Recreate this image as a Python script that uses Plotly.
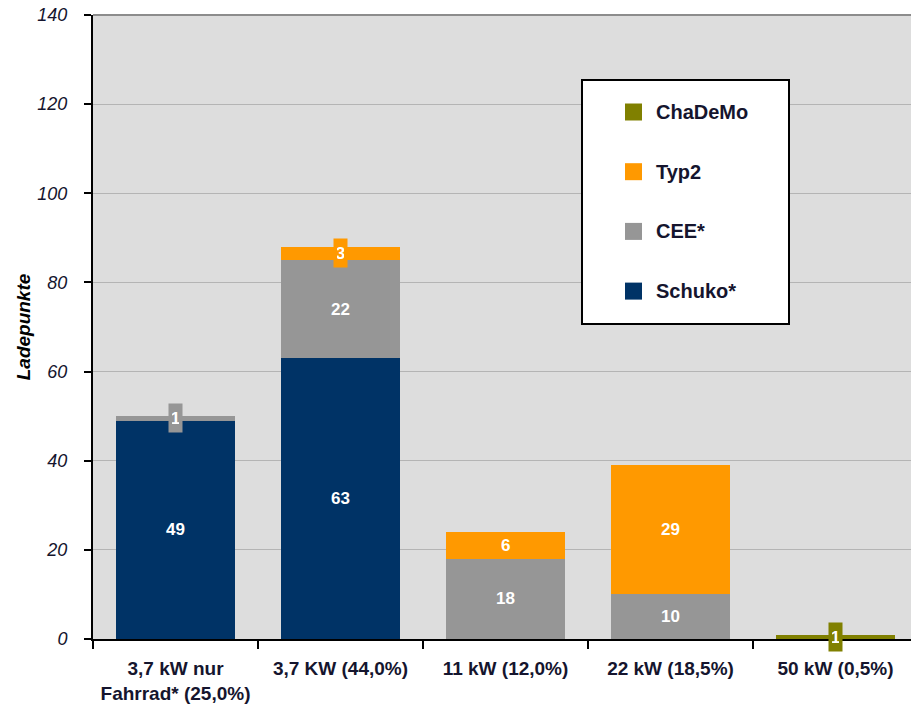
import plotly.graph_objects as go

# Ladepunkte nach Leistungsklasse und Steckertyp
categories = [
    "3,7 kW nur<br>Fahrrad* (25,0%)",
    "3,7 KW (44,0%)",
    "11 kW (12,0%)",
    "22 kW (18,5%)",
    "50 kW (0,5%)",
]
schuko = [49, 63, 0, 0, 0]
cee = [1, 22, 18, 10, 0]
typ2 = [0, 3, 6, 29, 0]
chademo = [0, 0, 0, 0, 1]

series_names = ["Schuko*", "CEE*", "Typ2", "ChaDeMo"]
series_values = [schuko, cee, typ2, chademo]
series_colors = ["#003366", "#969696", "#FF9900", "#808000"]

y_ticks = [0, 20, 40, 60, 80, 100, 120, 140]

W, H = 911, 719
L, R, T, B = 93, 0, 15, 80
PW, PH = W - L - R, H - T - B

FONT = "Liberation Sans, Arial, sans-serif"
TEXT_DARK = "#15152e"


def px_x(px):
    return (px - L) / PW


def px_y(py):
    return (H - B - py) / PH


fig = go.Figure()
for name, vals, col in zip(series_names, series_values, series_colors):
    fig.add_trace(go.Bar(
        x=categories, y=vals, name=name,
        marker=dict(color=col, line=dict(width=0)),
        width=0.72, showlegend=False, hoverinfo="skip",
    ))

# value labels centred in each segment; thin segments get a boxed label
annotations = []
base = [0] * len(categories)
for vals, col in zip(series_values, series_colors):
    for i, v in enumerate(vals):
        if v > 0:
            small = v < 5
            annotations.append(dict(
                x=categories[i], y=base[i] + v / 2, xref="x", yref="y",
                text=str(v), showarrow=False,
                font=dict(family=FONT, size=17, color="white", weight="bold"),
                bgcolor=col if small else None,
                borderpad=3 if small else 0,
                width=(7 if v < 10 else 16) if small else None,
                height=22 if small else None,
            ))
        base[i] += v

# legend box (top entry = last series)
shapes = [dict(
    type="rect", xref="paper", yref="paper",
    x0=px_x(582), x1=px_x(789), y0=px_y(324), y1=px_y(80),
    fillcolor="white", line=dict(color="black", width=2), layer="above",
)]
for k, (name, col) in enumerate(zip(series_names[::-1], series_colors[::-1])):
    cy = 112 + 59.7 * k
    shapes.append(dict(
        type="rect", xref="paper", yref="paper",
        x0=px_x(625), x1=px_x(642), y0=px_y(cy + 8.5), y1=px_y(cy - 8.5),
        fillcolor=col, line=dict(width=0), layer="above",
    ))
    annotations.append(dict(
        x=px_x(654), y=px_y(cy), xref="paper", yref="paper",
        xanchor="left", yanchor="middle", text=name, showarrow=False,
        font=dict(family=FONT, size=20, color=TEXT_DARK, weight="bold"),
    ))

# darker top border of the plot area
shapes.append(dict(
    type="line", xref="paper", yref="paper", x0=0, x1=1, y0=1, y1=1,
    line=dict(color="#8c8c8c", width=2), layer="below",
))

fig.update_layout(
    width=W, height=H,
    margin=dict(l=L, r=R, t=T, b=B, pad=0),
    barmode="stack",
    bargap=0.28,
    plot_bgcolor="#dddddd",
    paper_bgcolor="white",
    font=dict(family=FONT, color=TEXT_DARK),
    shapes=shapes,
    annotations=annotations,
    showlegend=False,
)
fig.update_xaxes(
    type="category",
    range=[-0.5, -0.5 + PW / 165.0],
    showgrid=False,
    showline=True, linecolor="black", linewidth=2,
    ticks="outside", tickson="boundaries", ticklen=8, tickwidth=2, tickcolor="black",
    tickfont=dict(family=FONT, size=19, color=TEXT_DARK, weight="bold"),
    ticklabelstandoff=11,
)
fig.update_yaxes(
    range=[0, 140],
    tickvals=y_ticks,
    ticktext=[str(v) for v in y_ticks],
    showgrid=True, gridcolor="#b4b4b4", gridwidth=1,
    zeroline=False,
    showline=True, linecolor="black", linewidth=2,
    ticks="outside", ticklen=7, tickwidth=2, tickcolor="black",
    tickfont=dict(family=FONT, size=18, color=TEXT_DARK, style="italic"),
    ticklabelstandoff=13,
    title=dict(text="Ladepunkte", standoff=2,
               font=dict(family=FONT, size=19, color="black",
                         weight="bold", style="italic")),
)

fig.write_html("out.html")
